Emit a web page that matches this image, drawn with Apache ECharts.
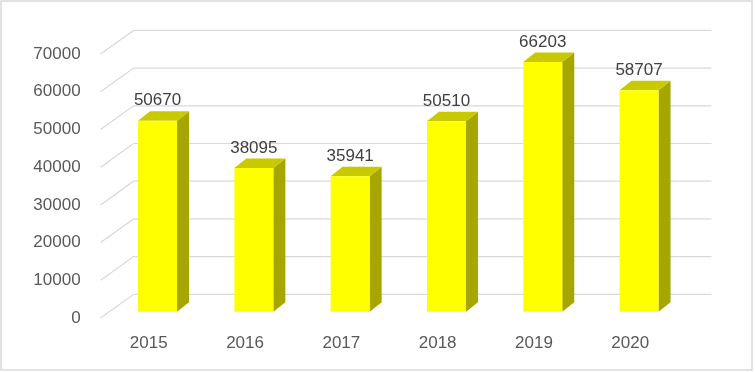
<!DOCTYPE html>
<html>
<head>
<meta charset="utf-8">
<script src="https://cdn.jsdelivr.net/npm/echarts@6/dist/echarts.min.js"></script>
<style>html,body{margin:0;padding:0;background:#fff}#c{width:755px;height:372px}</style>
</head>
<body>
<div id="c"></div>
<script>
var categories = ['2015', '2016', '2017', '2018', '2019', '2020'];
var values = [50670, 38095, 35941, 50510, 66203, 58707];
var yTicks = [0, 10000, 20000, 30000, 40000, 50000, 60000, 70000];

// depth offsets (pixels) relative to bar front plane
var BACK = [24.2, -17.4];
var FRONT = [-8.8, 6.3];
var BAR_DEPTH = [12, -9.5];
var FONT = '"Liberation Sans", Arial, sans-serif';
var TXT = '#595959';

var chart = echarts.init(document.getElementById('c'));
chart.setOption({
  animation: false,
  backgroundColor: '#fff',
  graphic: [{
    type: 'rect', shape: {x: 1, y: 1, width: 751, height: 369},
    style: {fill: 'none', stroke: '#d9d9d9', lineWidth: 1.5}, z: 100
  }],
  grid: [
    {left: 109.4, right: 67.8, top: 47.8, bottom: 60.3},
    {left: 100.6, right: 76.6, top: 54.1, bottom: 54.0}
  ],
  xAxis: [
    {gridIndex: 0, type: 'category', data: categories, show: false},
    {gridIndex: 1, type: 'category', data: categories,
     axisLine: {show: false}, axisTick: {show: false}, splitLine: {show: false},
     axisLabel: {color: TXT, fontSize: 17, fontFamily: FONT, margin: 17}}
  ],
  yAxis: [
    {gridIndex: 0, type: 'value', min: 0, max: 70000, interval: 10000, show: false},
    {gridIndex: 1, type: 'value', min: 0, max: 70000, interval: 10000,
     axisLine: {show: false}, axisTick: {show: false}, splitLine: {show: false},
     axisLabel: {color: TXT, fontSize: 17, fontFamily: FONT, margin: 20,
                 formatter: function (v) { return String(v); }}}
  ],
  series: [
    {
      type: 'custom', xAxisIndex: 0, yAxisIndex: 0, silent: true, z: 1,
      data: yTicks.map(function (v) { return [0, v]; }),
      renderItem: function (params, api) {
        var cs = params.coordSys;
        var y = api.coord([0, api.value(1)])[1];
        var bx0 = cs.x + BACK[0], by = y + BACK[1];
        var bx1 = cs.x + cs.width + BACK[0];
        return {
          type: 'polyline',
          shape: {points: [[cs.x + FRONT[0], y + FRONT[1]], [bx0, by], [bx1, by]]},
          style: {stroke: '#d9d9d9', lineWidth: 1.2, fill: null}
        };
      }
    },
    {
      type: 'custom', xAxisIndex: 0, yAxisIndex: 0, silent: true, z: 2,
      data: values.map(function (v, i) { return [i, v]; }),
      renderItem: function (params, api) {
        var c = api.coord([api.value(0), api.value(1)]);
        var b = api.coord([api.value(0), 0]);
        var w = api.size([1, 0])[0] * 0.405;
        var x0 = c[0] - w / 2, x1 = c[0] + w / 2, yt = c[1], yb = b[1];
        var dx = BAR_DEPTH[0], dy = BAR_DEPTH[1];
        return {
          type: 'group',
          children: [
            {type: 'polygon', shape: {points: [[x1, yt], [x1 + dx, yt + dy], [x1 + dx, yb + dy], [x1, yb]]},
             style: {fill: '#a6a600'}},
            {type: 'polygon', shape: {points: [[x0, yt], [x0 + dx, yt + dy], [x1 + dx, yt + dy], [x1, yt]]},
             style: {fill: '#c9c900'}},
            {type: 'rect', shape: {x: x0, y: yt, width: w, height: yb - yt},
             style: {fill: '#ffff00'}},
            {type: 'text', x: c[0], y: yt - 20,
             style: {text: String(api.value(1)), fill: '#404040', font: '17px ' + FONT,
                     align: 'center', verticalAlign: 'middle'}}
          ]
        };
      }
    }
  ]
});
</script>
</body>
</html>
